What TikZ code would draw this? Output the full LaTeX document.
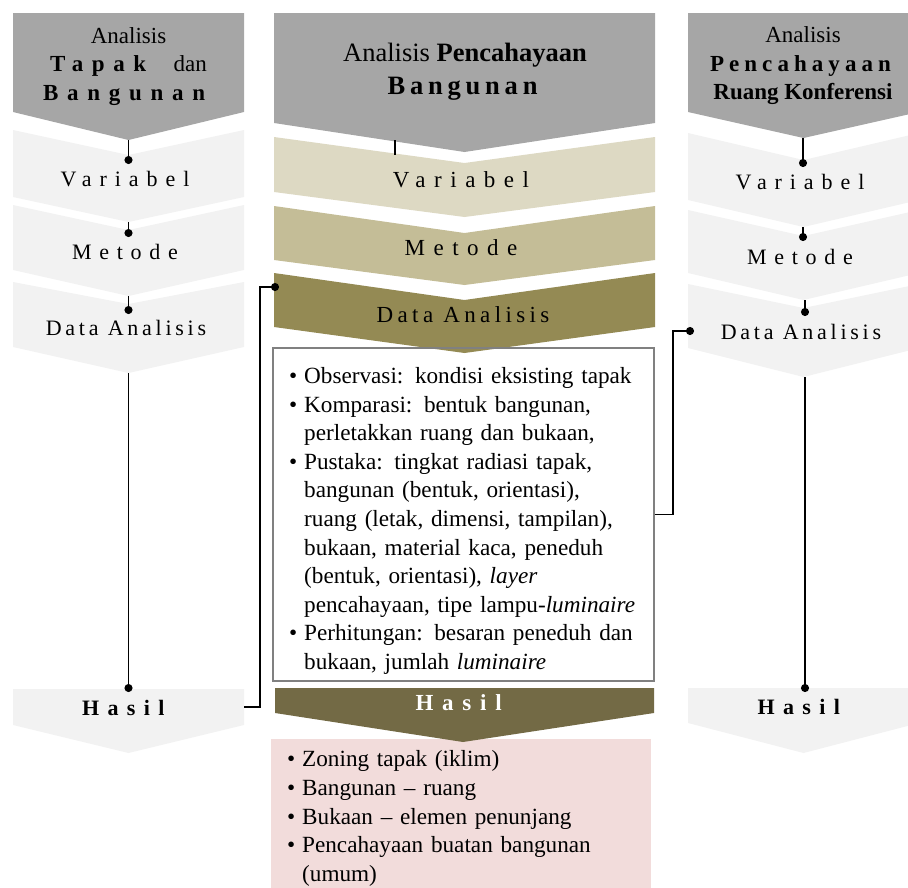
\documentclass[tikz,border=0pt]{standalone}
\usepackage{fontspec}
\setmainfont{Liberation Serif}
\usepackage{xcolor}
\usepackage{tikz}
\usetikzlibrary{arrows.meta}

\definecolor{headgray}{HTML}{A6A6A6}
\definecolor{sidegray}{HTML}{F2F2F2}
\definecolor{tanA}{HTML}{DDD9C3}
\definecolor{tanB}{HTML}{C4BD97}
\definecolor{tanC}{HTML}{948A54}
\definecolor{tanD}{HTML}{736A45}
\definecolor{pinkbg}{HTML}{F2DCDB}
\definecolor{boxgray}{HTML}{808080}

\newcommand{\renggang}[2]{{\addfontfeature{LetterSpace=#1}#2}}
\newcommand{\butir}[1]{\hangindent=15pt\hangafter=1\noindent\makebox[15pt][l]{\textbullet}#1\par}

\begin{document}
\begin{tikzpicture}[x=1pt, y=-1pt,
  headnode/.style={align=center, inner sep=0pt, font=\fontsize{23}{28.5}\selectfont},
  sidenode/.style={inner sep=0pt, font=\fontsize{22}{26}\selectfont},
  midnode/.style={inner sep=0pt, font=\fontsize{23}{27}\selectfont},
  listnode/.style={align=left, inner sep=0pt, text width=370, font=\fontsize{23.2}{28.6}\selectfont},
  link/.style={line width=1.6pt, -{Circle[length=8pt]}, shorten >=-4pt},
  stub/.style={line width=1.6pt}]
\useasboundingbox (0,0) rectangle (908,887);
\clip (0,0) rectangle (908,887);

% left column
\fill[headgray] (13,13) -- (244,13) -- (244,112) -- (128.5,140) -- (13,112) -- cycle;
\fill[sidegray] (13,130) -- (128.5,155) -- (244,130) -- (244,197) -- (128.5,222) -- (13,197) -- cycle;
\fill[sidegray] (13,205) -- (128.5,230) -- (244,205) -- (244,270) -- (128.5,296) -- (13,270) -- cycle;
\fill[sidegray] (13,282) -- (128.5,304) -- (244,282) -- (244,347) -- (128.5,373) -- (13,347) -- cycle;
\fill[sidegray] (13,689) -- (244,689) -- (244,725) -- (128.5,753) -- (13,725) -- cycle;

% middle column
\fill[headgray] (274,13) -- (655,13) -- (655,123) -- (464.5,152) -- (274,123) -- cycle;
\fill[tanA] (274,137) -- (464.5,163) -- (655,137) -- (655,192) -- (464.5,217) -- (274,192) -- cycle;
\fill[tanB] (274,206) -- (464.5,233) -- (655,206) -- (655,260) -- (464.5,285) -- (274,260) -- cycle;
\fill[tanC] (274,273) -- (464.5,300) -- (655,273) -- (655,327) -- (464.5,353) -- (274,327) -- cycle;
\node[draw=boxgray, line width=1.5pt, minimum width=381, minimum height=333, inner sep=0pt] (mBox) at (463.5,514.5) {};
\node[fill=pinkbg, minimum width=380, minimum height=158, inner sep=0pt, anchor=north west] (mPink) at (271,739) {};
\fill[tanD] (275,688) -- (654,688) -- (654,713) -- (463,742) -- (275,713) -- cycle;

% right column
\fill[headgray] (688,13) -- (919,13) -- (919,112) -- (803.5,138) -- (688,112) -- cycle;
\fill[sidegray] (688,133) -- (803.5,160) -- (919,133) -- (919,200) -- (803.5,227) -- (688,200) -- cycle;
\fill[sidegray] (688,210) -- (803.5,236) -- (919,210) -- (919,273) -- (803.5,300) -- (688,273) -- cycle;
\fill[sidegray] (688,284) -- (803.5,308) -- (919,284) -- (919,348) -- (803.5,377) -- (688,348) -- cycle;
\fill[sidegray] (688,688) -- (919,688) -- (919,723) -- (803.5,753) -- (688,723) -- cycle;

% connectors
\coordinate (lT0) at (128.5,140);
\coordinate (lD1) at (128.5,160);
\coordinate (lT1) at (128.5,222);
\coordinate (lD2) at (128.5,233);
\coordinate (lT2) at (128.5,296);
\coordinate (lD3) at (128.5,310);
\coordinate (lT3) at (128.5,373);
\coordinate (lD4) at (128.5,688);
\coordinate (lOut) at (244,707);
\coordinate (mIn) at (275,287);
\coordinate (mS1) at (395,140);
\coordinate (mS2) at (395,155);
\coordinate (rT0) at (803,138);
\coordinate (rD1) at (803,163);
\coordinate (rT1) at (803,227);
\coordinate (rD2) at (803,237);
\coordinate (rT2) at (805,300);
\coordinate (rD3) at (805,312);
\coordinate (rT3) at (805,377);
\coordinate (rD4) at (805,688);
\coordinate (rIn) at (690,331);

\draw[link] (lT0) -- (lD1);
\draw[link] (lT1) -- (lD2);
\draw[link] (lT2) -- (lD3);
\draw[link] (lT3) -- (lD4);
\draw[link] (lOut) -- ++(16,0) |- (mIn);
\draw[stub] (mS1) -- (mS2);
\draw[link] (rT0) -- (rD1);
\draw[link] (rT1) -- (rD2);
\draw[link] (rT2) -- (rD3);
\draw[link] (rT3) -- (rD4);
\draw[link] (mBox.east) -- ++(18,0) |- (rIn);

% texts
\node[headnode] (lHead) at (128.5,66.5) {Analisis\\ \textbf{\renggang{37}{Tapak}}\hspace{19pt}dan\\ \textbf{\renggang{38}{Bangunan}}};
\node[sidenode] (lVar) at (125,179) {\renggang{36}{Variabel}};
\node[sidenode] (lMet) at (125,252) {\renggang{35}{Metode}};
\node[sidenode] (lData) at (126,328) {\renggang{17}{Data Analisis}};
\node[sidenode] (lHasil) at (127.5,708) {\textbf{\renggang{38}{Hasil}}};

\node[headnode, font=\fontsize{26.5}{33}\selectfont] (mHead) at (465,71.5) {Analisis \textbf{Pencahayaan}\\ \textbf{\renggang{18}{Bangunan}}};
\node[midnode] (mVar) at (461,180) {\renggang{37}{Variabel}};
\node[midnode] (mMet) at (461,248) {\renggang{37}{Metode}};
\node[midnode] (mData) at (463,315) {\renggang{19}{Data Analisis}};
\node[midnode, text=white] (mHasil) at (463,703) {\textbf{\renggang{38}{Hasil}}};
\node[listnode, anchor=west] (mList) at (289,521) {%
\butir{Observasi: kondisi eksisting tapak}
\butir{Komparasi: bentuk bangunan,\newline perletakkan ruang dan bukaan,}
\butir{Pustaka: tingkat radiasi tapak,\newline bangunan (bentuk, orientasi),\newline ruang (letak, dimensi, tampilan),\newline bukaan, material kaca, peneduh\newline (bentuk, orientasi), \textit{layer}\newline pencahayaan, tipe lampu-\textit{luminaire}}
\butir{Perhitungan: besaran peneduh dan\newline bukaan, jumlah \textit{luminaire}}};
\node[listnode, anchor=west] (mResult) at (287,818.5) {%
\butir{Zoning tapak (iklim)}
\butir{Bangunan -- ruang}
\butir{Bukaan -- elemen penunjang}
\butir{Pencahayaan buatan bangunan\newline (umum)}};

\node[headnode] (rHead) at (803,66) {Analisis\\ \textbf{\renggang{22}{Pencahayaan}}\\ \textbf{Ruang Konferensi}};
\node[sidenode] (rVar) at (800,182) {\renggang{36}{Variabel}};
\node[sidenode] (rMet) at (800,257) {\renggang{35}{Metode}};
\node[sidenode] (rData) at (801,332) {\renggang{17}{Data Analisis}};
\node[sidenode] (rHasil) at (803,707) {\textbf{\renggang{38}{Hasil}}};

\end{tikzpicture}
\end{document}
